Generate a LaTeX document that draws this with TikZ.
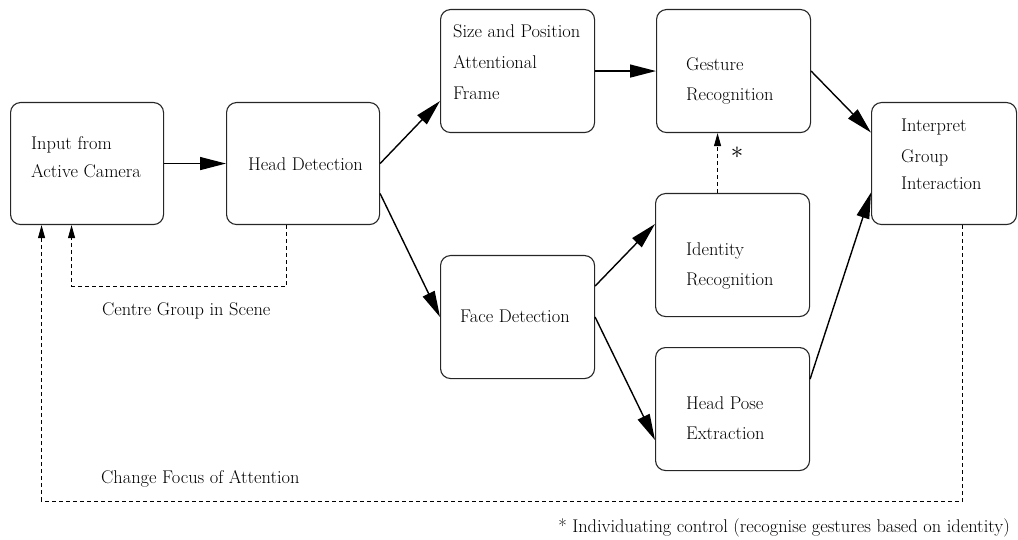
\documentclass[tikz,border=0pt]{standalone}
\usetikzlibrary{arrows.meta,calc}
\begin{document}
\begin{tikzpicture}[x=1pt,y=-1pt,
  box/.style={draw=black!85, line width=1.1pt, rounded corners=10pt, anchor=north west, inner sep=0pt},
  txt/.style={anchor=base west, inner sep=0pt, font=\fontsize{18.4}{22}\selectfont},
  flow/.style={line width=1.4pt, -{Triangle[length=26pt,width=13pt]}},
  ctrl/.style={line width=0.9pt, dash pattern=on 4pt off 3pt, -{Triangle[length=13pt,width=7pt]}}]
\useasboundingbox (0,0) rectangle (1018,540);
% boxes
\node[box, minimum width=153pt, minimum height=122pt] (inp) at (10,102) {};
\node[box, minimum width=153pt, minimum height=122pt] (head) at (226,102) {};
\node[box, minimum width=154pt, minimum height=123pt] (size) at (440,9) {};
\node[box, minimum width=154pt, minimum height=123pt] (gest) at (656,9) {};
\node[box, minimum width=154pt, minimum height=123pt] (ident) at (655,193) {};
\node[box, minimum width=154pt, minimum height=123pt] (face) at (440,255) {};
\node[box, minimum width=154pt, minimum height=123pt] (pose) at (655,347) {};
\node[box, minimum width=145pt, minimum height=122pt] (interp) at (871,102) {};
% texts
\node[txt] (inpA) at (31,150) {Input from};
\node[txt] (inpB) at (31,178) {Active Camera};
\node[txt] (headA) at (248,171) {Head Detection};
\node[txt] (sizeA) at (453,38) {Size and Position};
\node[txt] (sizeB) at (453,69) {Attentional};
\node[txt] (sizeC) at (453,100) {Frame};
\node[txt] (gestA) at (686,71) {Gesture};
\node[txt] (gestB) at (686,101) {Recognition};
\node[txt] (identA) at (686,256) {Identity};
\node[txt] (identB) at (686,286) {Recognition};
\node[txt] (faceA) at (460,323) {Face Detection};
\node[txt] (poseA) at (686,409) {Head Pose};
\node[txt] (poseB) at (686,439) {Extraction};
\node[txt] (intA) at (901,132) {Interpret};
\node[txt] (intB) at (901,163) {Group};
\node[txt] (intC) at (901,190) {Interaction};
\node[txt] (centre) at (102,316) {Centre Group in Scene};
\node[txt] (change) at (101,483) {Change Focus of Attention};
\node[txt, anchor=base east] (note) at (1010,532) {* Individuating control (recognise gestures based on identity)};
\node[inner sep=0pt, font=\fontsize{32}{32}\selectfont] (star) at (737,153) {$\ast$};
% solid connectors
\draw[flow] (inp.east) -- (head.west);
\draw[flow] (head.east) -- ($(size.west)+(0,30)$);
\draw[flow] ($(head.east)+(0,30)$) -- (face.west);
\draw[flow] (size.east) -- (gest.west);
\draw[flow] ($(face.east)+(0,-31)$) -- ($(ident.west)+(0,-31)$);
\draw[flow] (face.east) -- ($(pose.west)+(0,31)$);
\draw[flow] ($(pose.east)+(0,-30)$) -- ($(interp.west)+(0,29)$);
\draw[flow] (gest.east) -- ($(interp.west)+(0,-31)$);
% dashed control connectors
\draw[ctrl] ($(ident.north)+(-15,0)$) -- ($(gest.south)+(-16,0)$);
\coordinate (c1) at ($(head.south)+(-16.5,61)$);
\draw[ctrl] ($(head.south)+(-16.5,0)$) -- (c1) -| ($(inp.south)+(-15.5,0)$);
\coordinate (c2) at ($(interp.south)+(18.5,276)$);
\draw[ctrl] ($(interp.south)+(18.5,0)$) -- (c2) -| ($(inp.south)+(-45.5,0)$);
\end{tikzpicture}
\end{document}
